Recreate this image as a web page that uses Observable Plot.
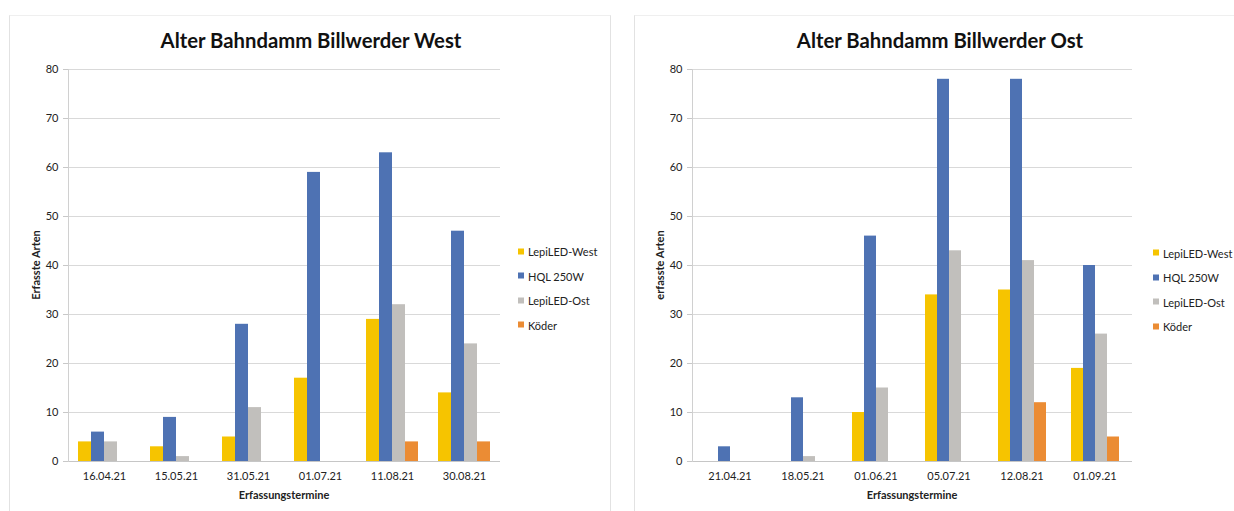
<!DOCTYPE html>
<html>
<head>
<meta charset="utf-8">
<script src="https://cdn.jsdelivr.net/npm/d3@7"></script>
<script src="https://cdn.jsdelivr.net/npm/@observablehq/plot@0.6"></script>
<style>
  html, body { margin: 0; padding: 0; background: #fff; }
  #root { position: relative; width: 1234px; height: 511px; overflow: hidden; font-family: Lato, "Open Sans", sans-serif; color: #222; }
  .panel { position: absolute; box-sizing: border-box; border-left: 1px solid #e2e2e2; border-top: 1px solid #efefef; border-right: 1px solid #e2e2e2; }
  .title { position: absolute; font-weight: 700; font-size: 20.3px; color: #111; white-space: nowrap; transform: translate(-50%, -50%); }
  .xlabel { position: absolute; font-weight: 700; font-size: 11px; color: #222; white-space: nowrap; transform: translate(-50%, -50%); }
  .ylabel { position: absolute; font-weight: 700; font-size: 11px; color: #222; white-space: nowrap; transform: translate(-50%, -50%) rotate(-90deg); }
  .plotbox { position: absolute; }
  .legend { position: absolute; font-size: 11px; color: #222; }
  .legend .item { position: absolute; white-space: nowrap; display: flex; align-items: center; transform: translateY(-50%); }
  .legend .sw { width: 6px; height: 6px; margin-right: 4px; flex: none; }
</style>
</head>
<body>
<div id="root"></div>
<script>
// ---- data ----
const series = ["LepiLED-West", "HQL 250W", "LepiLED-Ost", "Köder"];
const seriesColors = ["#F6C400", "#4E72B3", "#C1BFBC", "#EB8C34"];
const yTicks = [0, 10, 20, 30, 40, 50, 60, 70, 80];

const westTitle = "Alter Bahndamm Billwerder West";
const westDates = ["16.04.21", "15.05.21", "31.05.21", "01.07.21", "11.08.21", "30.08.21"];
const westLepiWest = [4, 3, 5, 17, 29, 14];
const westHQL = [6, 9, 28, 59, 63, 47];
const westLepiOst = [4, 1, 11, 0, 32, 24];
const westKoeder = [0, 0, 0, 0, 4, 4];

const ostTitle = "Alter Bahndamm Billwerder Ost";
const ostDates = ["21.04.21", "18.05.21", "01.06.21", "05.07.21", "12.08.21", "01.09.21"];
const ostLepiWest = [0, 0, 10, 34, 35, 19];
const ostHQL = [3, 13, 46, 78, 78, 40];
const ostLepiOst = [0, 1, 15, 43, 41, 26];
const ostKoeder = [0, 0, 0, 0, 12, 5];

const xTitle = "Erfassungstermine";

function toRows(dates, valueLists) {
  const rows = [];
  dates.forEach((d, i) => {
    series.forEach((s, j) => rows.push({date: d, series: s, value: valueLists[j][i]}));
  });
  return rows;
}

const root = document.getElementById("root");

function el(cls, text, css) {
  const e = document.createElement("div");
  e.className = cls;
  if (text != null) e.textContent = text;
  Object.assign(e.style, css);
  root.appendChild(e);
  return e;
}

function drawPanel(cfg) {
  el("panel", null, {left: cfg.panelLeft + "px", top: "15px", width: cfg.panelWidth + "px", height: "520px"});
  el("title", cfg.title, {left: cfg.titleX + "px", top: "40px"});

  const common = {
    width: cfg.svgWidth,
    height: 462,
    marginLeft: 58,
    marginRight: 10,
    marginTop: 19,
    marginBottom: 51,
    style: {fontFamily: "Lato, sans-serif", fontSize: "11px", color: "#222", background: "transparent", overflow: "visible"},
    y: {domain: [0, 80], label: null}
  };

  // background: grid, baseline, y axis
  const back = Plot.plot({
    ...common,
    marks: [
      Plot.ruleY(yTicks.filter(t => t > 0), {stroke: "#d9d9d9", strokeWidth: 1}),
      Plot.ruleY([0], {stroke: "#c6c6c6", strokeWidth: 1}),
      Plot.frame({anchor: "left", stroke: "#d0d0d0"}),
      Plot.axisY({ticks: yTicks, tickSize: 5, tickPadding: 5, stroke: "#c8c8c8", label: null})
    ]
  });
  const box1 = el("plotbox", null, {left: cfg.svgLeft + "px", top: "50px"});
  box1.appendChild(back);

  // foreground: grouped bars via fx facets
  const rows = toRows(cfg.dates, cfg.values);
  const bars = Plot.plot({
    ...common,
    fx: {domain: cfg.dates, paddingInner: cfg.pad, paddingOuter: cfg.pad / 2, label: null},
    x: {domain: series, padding: 0, axis: null, label: null},
    color: {domain: series, range: seriesColors},
    marks: [
      Plot.barY(rows, {fx: "date", x: "series", y: "value", fill: "series", inset: 0}),
      Plot.axisFx({anchor: "bottom", tickSize: 0, tickPadding: 11, label: null}),
      Plot.axisY({ticks: [], label: null})
    ]
  });
  const box2 = el("plotbox", null, {left: cfg.svgLeft + "px", top: "50px"});
  box2.appendChild(bars);

  el("xlabel", xTitle, {left: cfg.xLabelX + "px", top: "494px"});
  el("ylabel", cfg.yLabel, {left: cfg.yLabelX + "px", top: "265px"});

  const lg = el("legend", null, {left: cfg.legendX + "px", top: "0px"});
  series.forEach((s, i) => {
    const it = document.createElement("div");
    it.className = "item";
    it.style.top = (cfg.legendY + i * 24.5) + "px";
    const sw = document.createElement("span");
    sw.className = "sw";
    sw.style.background = seriesColors[i];
    const tx = document.createElement("span");
    tx.textContent = s;
    it.appendChild(sw);
    it.appendChild(tx);
    lg.appendChild(it);
  });
}

drawPanel({
  title: westTitle, dates: westDates,
  values: [westLepiWest, westHQL, westLepiOst, westKoeder],
  yLabel: "Erfasste Arten",
  panelLeft: 9, panelWidth: 602, titleX: 311,
  svgLeft: 10, svgWidth: 500, pad: 0.28,
  xLabelX: 284, yLabelX: 35,
  legendX: 518, legendY: 251
});

drawPanel({
  title: ostTitle, dates: ostDates,
  values: [ostLepiWest, ostHQL, ostLepiOst, ostKoeder],
  yLabel: "erfasste Arten",
  panelLeft: 634, panelWidth: 640, titleX: 940,
  svgLeft: 634, svgWidth: 508, pad: 0.30,
  xLabelX: 912, yLabelX: 659,
  legendX: 1153, legendY: 252.5
});
</script>
</body>
</html>
